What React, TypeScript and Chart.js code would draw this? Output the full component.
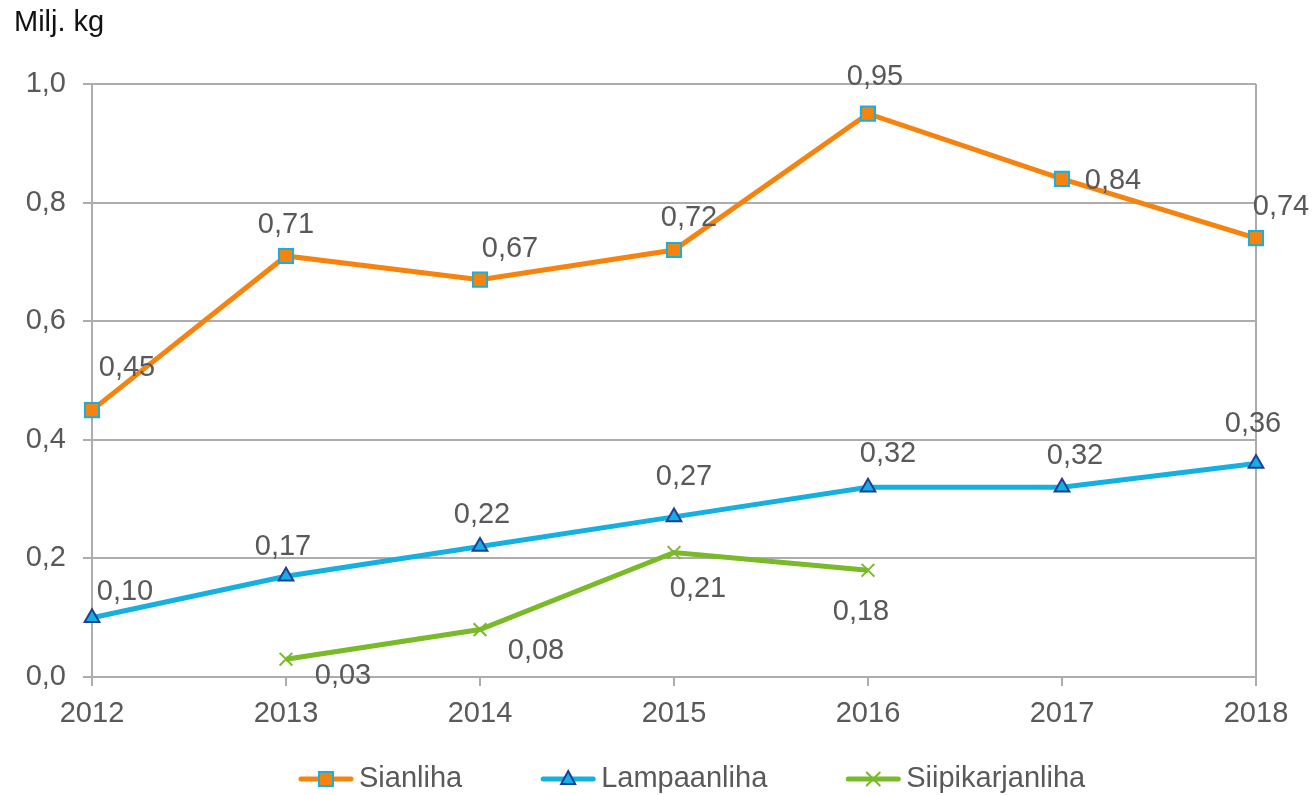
import React, { useEffect, useRef } from 'react';
import { Chart, registerables } from 'chart.js';

Chart.register(...registerables);

// ---------- data ----------
const years = ['2012', '2013', '2014', '2015', '2016', '2017', '2018'];
const sianliha = [0.45, 0.71, 0.67, 0.72, 0.95, 0.84, 0.74];
const lampaanliha = [0.1, 0.17, 0.22, 0.27, 0.32, 0.32, 0.36];
const siipikarjanliha = [null, 0.03, 0.08, 0.21, 0.18, null, null];
const seriesNames = ['Sianliha', 'Lampaanliha', 'Siipikarjanliha'];
const yMin = 0;
const yMax = 1;
const yStep = 0.2;
const unitLabel = 'Milj. kg';

// ---------- styles ----------
const ORANGE = '#F7830F';
const CYAN = '#14B0E2';
const NAVY = '#1F3E98';
const GREEN = '#78BA27';
const GRID = '#ADADAD';
const TEXT = '#595959';
const FONT = '"Liberation Sans", Arial, sans-serif';
const FS = 29;

// data-label offsets (dx, dy) relative to each point
const labelOffsets = [
  [[35, -42], [0, -31], [30, -31], [15, -32], [7, -37], [51, 2], [25, -31]],
  [[33, -26], [-3, -29], [2, -32], [10, -40], [20, -33], [13, -31], [-3, -40]],
  [[0, 0], [57, 17], [56, 21], [24, 37], [-7, 42], [0, 0], [0, 0]],
];

const fmt = (v: number, d: number) => v.toFixed(d).replace('.', ',');

function drawMarker(ctx: CanvasRenderingContext2D, kind: number, x: number, y: number) {
  ctx.save();
  if (kind === 0) {
    const s = 7;
    ctx.fillStyle = ORANGE;
    ctx.strokeStyle = CYAN;
    ctx.lineWidth = 2;
    ctx.fillRect(x - s, y - s, 2 * s, 2 * s);
    ctx.strokeRect(x - s, y - s, 2 * s, 2 * s);
  } else if (kind === 1) {
    ctx.fillStyle = CYAN;
    ctx.strokeStyle = NAVY;
    ctx.lineWidth = 2;
    ctx.beginPath();
    ctx.moveTo(x, y - 8);
    ctx.lineTo(x + 7, y + 5);
    ctx.lineTo(x - 7, y + 5);
    ctx.closePath();
    ctx.fill();
    ctx.stroke();
  } else {
    ctx.strokeStyle = GREEN;
    ctx.lineWidth = 2;
    const s = 6.5;
    ctx.beginPath();
    ctx.moveTo(x - s, y - s);
    ctx.lineTo(x + s, y + s);
    ctx.moveTo(x + s, y - s);
    ctx.lineTo(x - s, y + s);
    ctx.stroke();
  }
  ctx.restore();
}

const extrasPlugin = {
  id: 'extras',
  afterDatasetsDraw(chart: any) {
    const ctx: CanvasRenderingContext2D = chart.ctx;
    ctx.save();
    ctx.font = `${FS}px ${FONT}`;
    ctx.fillStyle = TEXT;
    ctx.textAlign = 'center';
    ctx.textBaseline = 'middle';
    chart.data.datasets.forEach((ds: any, di: number) => {
      const meta = chart.getDatasetMeta(di);
      ds.data.forEach((v: number | null, i: number) => {
        if (v === null || v === undefined) return;
        const el = meta.data[i];
        const [dx, dy] = labelOffsets[di][i];
        ctx.fillText(fmt(v, 2), el.x + dx, el.y + dy);
      });
    });
    ctx.restore();
  },
  beforeDatasetsDraw(chart: any) {
    const ctx: CanvasRenderingContext2D = chart.ctx;
    const area = chart.chartArea;
    ctx.save();
    ctx.strokeStyle = GRID;
    ctx.lineWidth = 2;
    ctx.beginPath();
    ctx.moveTo(area.right, area.top);
    ctx.lineTo(area.right, area.bottom);
    ctx.stroke();
    ctx.restore();
  },
  afterDraw(chart: any) {
    const ctx: CanvasRenderingContext2D = chart.ctx;
    ctx.save();
    // unit label
    ctx.font = `${FS}px ${FONT}`;
    ctx.fillStyle = '#111111';
    ctx.textAlign = 'left';
    ctx.textBaseline = 'middle';
    ctx.fillText(unitLabel, 14, 23);
    // legend
    const colors = [ORANGE, CYAN, GREEN];
    let x = 298;
    const y = 779;
    seriesNames.forEach((name, i) => {
      ctx.strokeStyle = colors[i];
      ctx.lineWidth = 5;
      ctx.lineCap = 'round';
      ctx.beginPath();
      ctx.moveTo(x + 3, y);
      ctx.lineTo(x + 53, y);
      ctx.stroke();
      drawMarker(ctx, i, x + 28, y);
      ctx.fillStyle = TEXT;
      ctx.fillText(name, x + 61, y);
      x += 61 + ctx.measureText(name).width + 78;
    });
    ctx.restore();
  },
};

export default function App() {
  const ref = useRef<HTMLCanvasElement>(null);
  useEffect(() => {
    if (!ref.current) return;
    const chart = new Chart(ref.current, {
      type: 'line',
      data: {
        labels: years,
        datasets: [
          {
            label: seriesNames[0],
            data: sianliha,
            borderColor: ORANGE,
            borderWidth: 5,
            backgroundColor: ORANGE,
            pointStyle: 'rect',
            pointRadius: 10,
            pointBackgroundColor: ORANGE,
            pointBorderColor: CYAN,
            pointBorderWidth: 2,
            tension: 0,
          },
          {
            label: seriesNames[1],
            data: lampaanliha,
            borderColor: CYAN,
            borderWidth: 5,
            backgroundColor: CYAN,
            pointStyle: 'triangle',
            pointRadius: 8.5,
            pointBackgroundColor: CYAN,
            pointBorderColor: NAVY,
            pointBorderWidth: 2,
            tension: 0,
          },
          {
            label: seriesNames[2],
            data: siipikarjanliha,
            borderColor: GREEN,
            borderWidth: 5,
            backgroundColor: GREEN,
            pointStyle: 'crossRot',
            pointRadius: 9,
            pointBorderColor: GREEN,
            pointBorderWidth: 2,
            tension: 0,
            spanGaps: false,
          },
        ],
      },
      options: {
        responsive: false,
        animation: false,
        events: [],
        layout: { padding: { top: 84, right: 57, bottom: 48, left: 0 } },
        plugins: {
          legend: { display: false },
          tooltip: { enabled: false },
          title: { display: false },
        },
        scales: {
          x: {
            type: 'category',
            offset: false,
            afterFit: (s: any) => {
              s.height = 70;
            },
            grid: {
              display: true,
              drawOnChartArea: false,
              drawTicks: true,
              tickLength: 9,
              tickColor: GRID,
              color: GRID,
              lineWidth: 2,
            },
            border: { display: true, color: GRID, width: 2 },
            ticks: {
              color: TEXT,
              font: { family: FONT, size: FS },
              padding: 11,
              maxRotation: 0,
              autoSkip: false,
            },
          },
          y: {
            min: yMin,
            max: yMax,
            afterFit: (s: any) => {
              s.width = 92;
            },
            ticks: {
              stepSize: yStep,
              color: TEXT,
              font: { family: FONT, size: FS },
              padding: 17,
              callback: (v: any) => fmt(Number(v), 1),
            },
            grid: {
              color: GRID,
              lineWidth: 2,
              drawTicks: true,
              tickLength: 9,
              tickColor: GRID,
            },
            border: { display: true, color: GRID, width: 2 },
          },
        },
      },
      plugins: [extrasPlugin],
    } as any);
    return () => chart.destroy();
  }, []);
  return (
    <div style={{ position: 'fixed', left: 0, top: 0, width: 1313, height: 795, background: '#fff' }}>
      <canvas ref={ref} width={1313} height={795} style={{ display: 'block' }} />
    </div>
  );
}
